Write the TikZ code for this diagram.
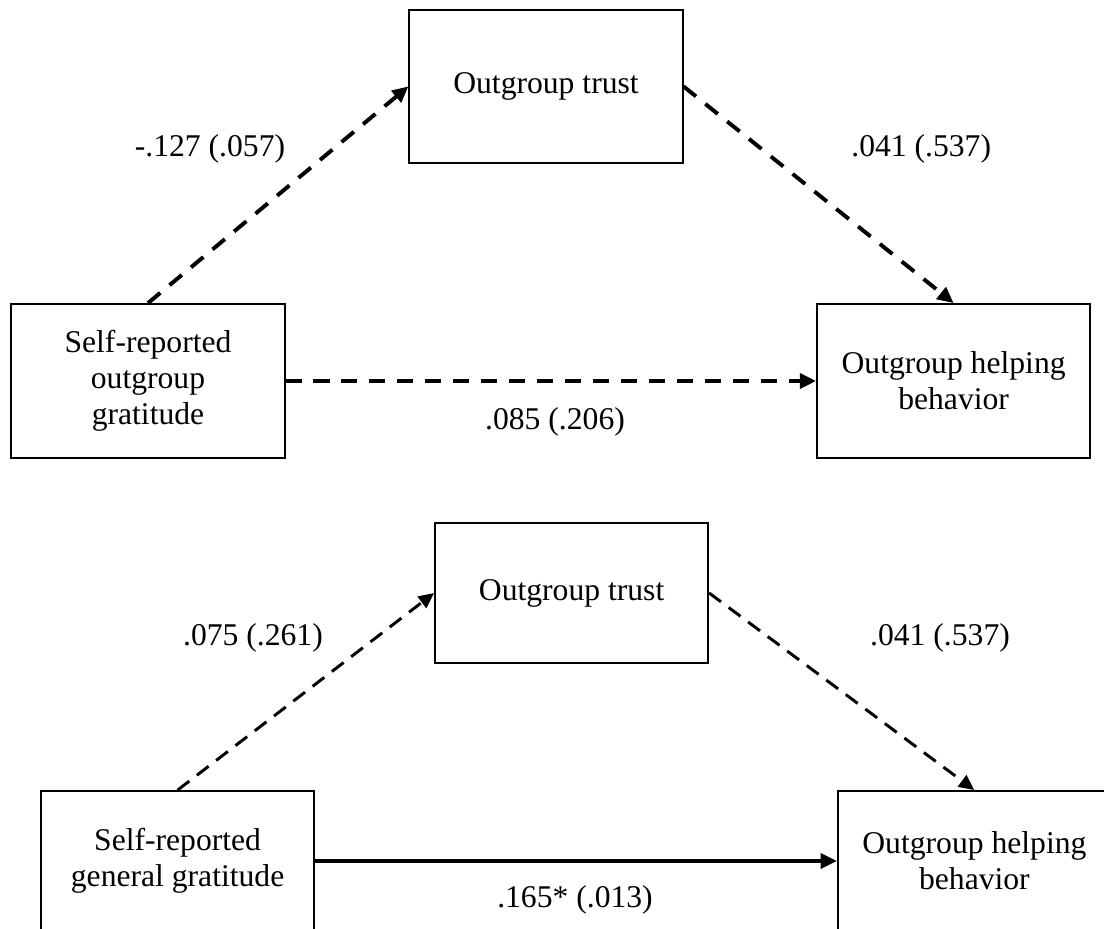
\documentclass[tikz,border=0pt]{standalone}
\usepackage{fontspec}
\setmainfont{Liberation Serif}
\usetikzlibrary{arrows.meta, positioning}

\begin{document}
\begin{tikzpicture}[
    varbox/.style={draw, line width=1.3pt, minimum width=6.83cm, align=center,
      font=\fontsize{22.5}{25.6}\selectfont},
    nspath/.style={-{Triangle[length=11.5pt, width=10.5pt]}, line width=2.8pt,
      dash pattern=on 11.4pt off 8.5pt},
    nspathb/.style={-{Triangle[length=11pt, width=10pt]}, line width=2.1pt,
      dash pattern=on 10.5pt off 6.8pt},
    sigpath/.style={-{Triangle[length=11.5pt, width=10.5pt]}, line width=2.8pt},
    coef/.style={font=\fontsize{22.5}{25.6}\selectfont}
  ]
  \useasboundingbox (0,0) rectangle (27.6,23.2);

  % Model 1: outgroup gratitude
  \node[varbox, minimum height=3.83cm] (trustA) at (13.65, 21.04) {Outgroup trust};
  \node[varbox, minimum height=3.85cm] (gratA) at (3.70, 13.675) {Self-reported\\outgroup\\gratitude};
  \node[varbox, minimum height=3.85cm] (helpA) at (23.84, 13.675) {Outgroup helping\\behavior};

  \draw[nspath] (gratA.north) -- (trustA.west);
  \draw[nspath] (trustA.east) -- (helpA.north);
  \draw[nspath] (gratA.east) -- (helpA.west);

  \node[coef] (aA) at (5.25, 19.475) {-.127 (.057)};
  \node[coef] (bA) at (23.03, 19.475) {.041 (.537)};
  \node[coef] (cA) at (13.875, 12.65) {.085 (.206)};

  % Model 2: general gratitude
  \node[varbox, minimum height=3.5cm] (trustB) at (14.29, 8.375) {Outgroup trust};
  \node[varbox, minimum height=3.5cm] (gratB) at (4.44, 1.675) {Self-reported\\general gratitude};
  \node[varbox, minimum height=3.5cm] (helpB) at (24.36, 1.675) {Outgroup helping\\behavior};

  \draw[nspathb] (gratB.north) -- (trustB.west);
  \draw[nspathb] (trustB.east) -- (helpB.north);
  \draw[sigpath] (gratB.east) -- (helpB.west);

  \node[coef] (aB) at (6.325, 7.25) {.075 (.261)};
  \node[coef] (bB) at (23.50, 7.25) {.041 (.537)};
  \node[coef] (cB) at (14.375, 0.70) {.165* (.013)};
\end{tikzpicture}
\end{document}
